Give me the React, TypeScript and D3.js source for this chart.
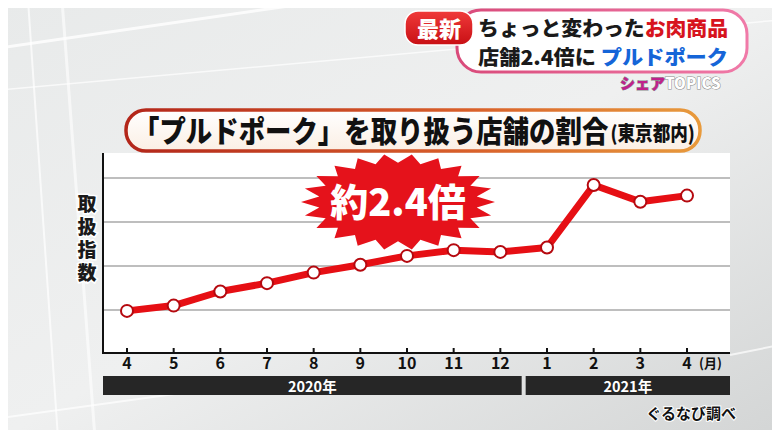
import React, { useEffect, useRef } from 'react';
import * as d3 from 'd3';

const months = ['4', '5', '6', '7', '8', '9', '10', '11', '12', '1', '2', '3', '4'];
const indexValues = [0.98, 1.1, 1.42, 1.61, 1.85, 2.03, 2.23, 2.36, 2.32, 2.42, 3.84, 3.46, 3.6];
const gridValues = [1, 2, 3, 4];
const years = [
  { label: '2020年', from: 0, to: 8 },
  { label: '2021年', from: 9, to: 12 },
];

const W = 780;
const H = 438;
const FONT = '"Noto Sans CJK JP", "Noto Sans", sans-serif';

export default function App() {
  const svgRef = useRef<SVGSVGElement>(null);

  useEffect(() => {
    if (!svgRef.current) return;
    const svg = d3.select(svgRef.current);
    svg.selectAll('*').remove();

    const defs = svg.append('defs');
    const bg = defs.append('linearGradient').attr('id', 'bg').attr('x1', 0).attr('y1', 0).attr('x2', 1).attr('y2', 1);
    bg.append('stop').attr('offset', 0).attr('stop-color', '#e8eaea');
    bg.append('stop').attr('offset', 0.5).attr('stop-color', '#eff0f0');
    bg.append('stop').attr('offset', 1).attr('stop-color', '#d3d5d5');

    const titleBorder = defs.append('linearGradient').attr('id', 'tb').attr('x1', 0).attr('y1', 0).attr('x2', 1).attr('y2', 0);
    titleBorder.append('stop').attr('offset', 0).attr('stop-color', '#b3261a');
    titleBorder.append('stop').attr('offset', 0.6).attr('stop-color', '#d9602a');
    titleBorder.append('stop').attr('offset', 1).attr('stop-color', '#e89a3c');

    const titleFill = defs.append('linearGradient').attr('id', 'tf').attr('x1', 0).attr('y1', 0).attr('x2', 0).attr('y2', 1);
    titleFill.append('stop').attr('offset', 0).attr('stop-color', '#ffffff');
    titleFill.append('stop').attr('offset', 1).attr('stop-color', '#fbefe4');

    const pink = defs.append('linearGradient').attr('id', 'pk').attr('x1', 0).attr('y1', 0).attr('x2', 1).attr('y2', 0);
    pink.append('stop').attr('offset', 0).attr('stop-color', '#d94a7a');
    pink.append('stop').attr('offset', 1).attr('stop-color', '#f07aa8');

    const redPill = defs.append('linearGradient').attr('id', 'rp').attr('x1', 0).attr('y1', 0).attr('x2', 0).attr('y2', 1);
    redPill.append('stop').attr('offset', 0).attr('stop-color', '#f03a3a');
    redPill.append('stop').attr('offset', 1).attr('stop-color', '#c80f14');

    // background
    svg.append('rect').attr('width', W).attr('height', H).attr('fill', 'url(#bg)');
    const deco = svg.append('g').attr('stroke', '#ffffff').attr('fill', 'none');
    deco.append('line').attr('x1', 0).attr('y1', 48).attr('x2', 330).attr('y2', 0).attr('stroke-width', 3).attr('opacity', 0.8);
    deco.append('line').attr('x1', 0).attr('y1', 90).attr('x2', 780).attr('y2', 20).attr('stroke-width', 1.5).attr('opacity', 0.7);
    deco.append('line').attr('x1', 28).attr('y1', 0).attr('x2', 58).attr('y2', 438).attr('stroke-width', 2).attr('opacity', 0.7);
    deco.append('line').attr('x1', 62).attr('y1', 0).attr('x2', 95).attr('y2', 438).attr('stroke-width', 3).attr('opacity', 0.6);
    deco.append('line').attr('x1', 0).attr('y1', 418).attr('x2', 240).attr('y2', 385).attr('stroke-width', 2).attr('opacity', 0.7);
    deco.append('line').attr('x1', 730).attr('y1', 355).attr('x2', 780).attr('y2', 345).attr('stroke-width', 2).attr('opacity', 0.7);

    // scales
    const x = d3.scaleLinear().domain([0, months.length - 1]).range([127, 687]);
    const y = d3.scaleLinear().domain([0, 4.6]).range([354, 151.6]);
    const step = x(1) - x(0);
    const left = 103;
    const right = 730;
    const top = 153;
    const bottom = 353;

    // panel
    svg.append('rect').attr('x', left).attr('y', top).attr('width', right - left).attr('height', bottom - top).attr('fill', '#ffffff');
    svg.append('g').selectAll('line').data(gridValues).join('line')
      .attr('x1', left).attr('x2', right)
      .attr('y1', d => y(d)).attr('y2', d => y(d))
      .attr('stroke', '#a9a9a9').attr('stroke-width', 1.5);
    svg.append('line').attr('x1', left).attr('x2', left).attr('y1', top).attr('y2', bottom + 1).attr('stroke', '#111').attr('stroke-width', 2);
    svg.append('line').attr('x1', left).attr('x2', right).attr('y1', bottom).attr('y2', bottom).attr('stroke', '#111').attr('stroke-width', 2);
    svg.append('g').selectAll('line').data(months).join('line')
      .attr('x1', (_, i) => x(i)).attr('x2', (_, i) => x(i))
      .attr('y1', bottom).attr('y2', bottom - 5)
      .attr('stroke', '#111').attr('stroke-width', 2);

    // month labels
    svg.append('g').selectAll('text').data(months).join('text')
      .attr('x', (_, i) => x(i)).attr('y', 369)
      .attr('text-anchor', 'middle')
      .attr('font-family', FONT).attr('font-weight', 700).attr('font-size', 16)
      .attr('fill', '#111')
      .text(d => d);
    svg.append('text').attr('x', x(months.length - 1) + 12).attr('y', 368)
      .attr('font-family', FONT).attr('font-weight', 700).attr('font-size', 13).attr('fill', '#111')
      .text('(月)');

    // year bars
    const yb = svg.append('g');
    years.forEach((yr, i) => {
      const x0 = i === 0 ? left : x(yr.from) - step / 2 + 2;
      const x1 = i === years.length - 1 ? right : x(yr.to) + step / 2 - 2;
      yb.append('rect').attr('x', x0).attr('y', 376).attr('width', x1 - x0).attr('height', 19).attr('fill', '#262626');
      yb.append('text').attr('x', (x0 + x1) / 2).attr('y', 392).attr('text-anchor', 'middle')
        .attr('font-family', FONT).attr('font-weight', 700).attr('font-size', 14.5).attr('fill', '#ffffff')
        .text(yr.label);
    });

    // y label (vertical)
    svg.append('text').attr('x', 87).attr('y', 240).attr('text-anchor', 'middle')
      .attr('font-family', FONT).attr('font-weight', 900).attr('font-size', 19)
      .attr('letter-spacing', 4)
      .style('writing-mode', 'vertical-rl')
      .attr('fill', '#1a1a1a').attr('stroke', '#ffffff').attr('stroke-width', 3).attr('paint-order', 'stroke')
      .text('取扱指数');

    // starburst
    const cx = 398;
    const cy = 202;
    const spikes = 22;
    const pts: [number, number][] = [];
    for (let k = 0; k < spikes * 2; k++) {
      const a = (Math.PI * k) / spikes;
      const r = k % 2 === 0 ? 1 : 0.82;
      pts.push([cx + Math.cos(a) * 97 * r, cy + Math.sin(a) * 48 * r]);
    }
    svg.append('polygon').attr('points', pts.map(p => p.join(',')).join(' ')).attr('fill', '#e5121b');
    svg.append('text').attr('x', cx).attr('y', cy + 14).attr('text-anchor', 'middle')
      .attr('font-family', FONT).attr('font-weight', 900).attr('font-size', 38).attr('fill', '#ffffff')
      .text('約2.4倍');

    // line
    const line = d3.line<number>().x((_, i) => x(i)).y(d => y(d));
    svg.append('path').datum(indexValues).attr('d', line).attr('fill', 'none')
      .attr('stroke', '#e60f14').attr('stroke-width', 7).attr('stroke-linejoin', 'round');
    svg.append('g').selectAll('circle').data(indexValues).join('circle')
      .attr('cx', (_, i) => x(i)).attr('cy', d => y(d)).attr('r', 6)
      .attr('fill', '#ffffff').attr('stroke', '#b5090f').attr('stroke-width', 2);

    // title pill (text condensed with a horizontal scale)
    svg.append('rect').attr('x', 126).attr('y', 110).attr('width', 574).attr('height', 41).attr('rx', 20)
      .attr('fill', 'url(#tf)').attr('stroke', 'url(#tb)').attr('stroke-width', 3.5);
    const tg = svg.append('g');
    const mainT = tg.append('text').attr('x', 0).attr('y', 0)
      .attr('font-family', FONT).attr('font-weight', 900).attr('fill', '#111').attr('font-size', 30)
      .text('「プルドポーク」を取り扱う店舗の割合');
    const mainW = (mainT.node() as SVGTextElement).getComputedTextLength();
    const subT = tg.append('text').attr('x', mainW + 2).attr('y', -1)
      .attr('font-family', FONT).attr('font-weight', 900).attr('fill', '#111').attr('font-size', 20)
      .text('(東京都内)');
    const subW = (subT.node() as SVGTextElement).getComputedTextLength();
    const sx = 562 / (mainW + 2 + subW);
    tg.attr('transform', `translate(133,142) scale(${sx},1)`);

    // top-right banner
    svg.append('rect').attr('x', 457).attr('y', 10).attr('width', 290).attr('height', 62).attr('rx', 24)
      .attr('fill', '#ffffff').attr('stroke', 'url(#pk)').attr('stroke-width', 3);
    svg.append('rect').attr('x', 405).attr('y', 11).attr('width', 68).attr('height', 34).attr('rx', 13)
      .attr('fill', 'url(#rp)').attr('stroke', '#ffffff').attr('stroke-width', 1.5);
    svg.append('text').attr('x', 439).attr('y', 37).attr('text-anchor', 'middle')
      .attr('font-family', FONT).attr('font-weight', 900).attr('font-size', 22).attr('fill', '#ffffff')
      .text('最新');
    const l1 = svg.append('text').attr('x', 478).attr('y', 36)
      .attr('font-family', FONT).attr('font-weight', 900).attr('font-size', 20)
      .attr('textLength', 250).attr('lengthAdjust', 'spacingAndGlyphs');
    l1.append('tspan').attr('fill', '#1a1a1a').text('ちょっと変わった');
    l1.append('tspan').attr('fill', '#d7141e').text('お肉商品');
    const l2 = svg.append('text').attr('x', 478).attr('y', 65)
      .attr('font-family', FONT).attr('font-weight', 900).attr('font-size', 20)
      .attr('textLength', 250).attr('lengthAdjust', 'spacingAndGlyphs');
    l2.append('tspan').attr('fill', '#1a1a1a').text('店舗2.4倍に ');
    l2.append('tspan').attr('fill', '#1565d8').text('プルドポーク');
    const logo = svg.append('text').attr('x', 620).attr('y', 89)
      .attr('font-family', FONT).attr('font-weight', 900).attr('font-size', 15)
      .attr('stroke', '#8a8a8a').attr('stroke-width', 1).attr('paint-order', 'stroke');
    logo.append('tspan').attr('fill', '#c0208c').text('シェア');
    logo.append('tspan').attr('fill', '#ffffff').text('TOPICS');

    // source
    svg.append('text').attr('x', 736).attr('y', 419).attr('text-anchor', 'end')
      .attr('font-family', FONT).attr('font-weight', 700).attr('font-size', 15).attr('fill', '#111')
      .attr('stroke', '#ffffff').attr('stroke-width', 2).attr('paint-order', 'stroke')
      .text('ぐるなび調べ');
  }, []);

  return (
    <div style={{ width: W, height: H, margin: -8, overflow: 'hidden' }}>
      <svg ref={svgRef} width={W} height={H} style={{ display: 'block' }} />
    </div>
  );
}
